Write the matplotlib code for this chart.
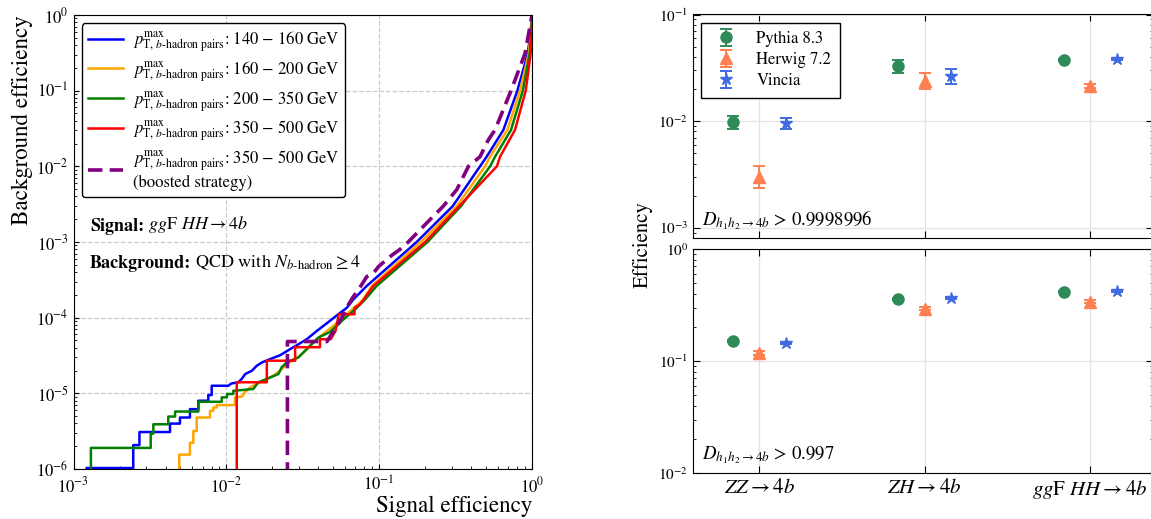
import matplotlib
matplotlib.use("Agg")
import matplotlib.pyplot as plt
import numpy as np

plt.rcParams['font.family'] = ['STIXGeneral', 'DejaVu Serif']
plt.rcParams['mathtext.fontset'] = 'stix'

# ---------------- Left panel: ROC curves ----------------
blue_x = [1.22e-3, 2.46e-3, 2.46e-3, 2.70e-3, 2.70e-3, 4.28e-3, 4.28e-3, 4.97e-3, 4.97e-3, 5.78e-3,
          5.78e-3, 6.56e-3, 6.56e-3, 7.62e-3, 7.62e-3, 8.02e-3, 8.02e-3, 1.03e-2, 1.08e-2, 1.20e-2,
          1.26e-2, 1.33e-2, 1.47e-2, 1.58e-2, 1.71e-2, 1.93e-2, 2.25e-2, 2.61e-2, 2.89e-2, 3.36e-2,
          3.91e-2, 4.54e-2, 5.28e-2, 6.14e-2, 6.78e-2, 0.083, 0.176, 0.303, 0.457, 0.505, 0.65,
          0.802, 0.94, 1.0]
blue_y = [1.03e-6, 1.03e-6, 2.07e-6, 2.07e-6, 3.08e-6, 3.08e-6, 3.98e-6, 3.98e-6, 4.79e-6, 4.79e-6,
          6.18e-6, 6.18e-6, 7.99e-6, 7.99e-6, 9.5e-6, 9.5e-6, 1.26e-5, 1.26e-5, 1.35e-5, 1.40e-5,
          1.55e-5, 1.80e-5, 1.99e-5, 2.31e-5, 2.56e-5, 2.83e-5, 3.19e-5, 3.83e-5, 4.32e-5, 5.19e-5,
          6.68e-5, 8.42e-5, 1.07e-4, 1.35e-4, 1.74e-4, 2.63e-4, 1e-3, 2.98e-3, 1e-2, 1.34e-2, 3.03e-2,
          0.1, 0.312, 0.9]

orange_x = [4.92e-3, 4.92e-3, 5.78e-3, 5.78e-3, 6.08e-3, 6.08e-3, 6.40e-3, 6.40e-3, 7.82e-3, 7.82e-3,
            8.22e-3, 8.22e-3, 8.65e-3, 8.65e-3, 1.14e-2, 1.14e-2, 1.27e-2, 1.32e-2, 1.43e-2, 1.58e-2,
            1.84e-2, 2.03e-2, 2.25e-2, 2.48e-2, 3.03e-2, 3.36e-2, 3.71e-2, 4.10e-2, 5.01e-2, 6.14e-2,
            7.89e-2, 0.0895, 0.187, 0.322, 0.493, 0.532, 0.69, 0.835, 0.953, 1.0]
orange_y = [1e-7, 1.55e-6, 1.55e-6, 2.22e-6, 2.22e-6, 3.18e-6, 3.18e-6, 4.79e-6, 4.79e-6, 5.88e-6,
            5.88e-6, 6.5e-6, 6.5e-6, 7.0e-6, 7.0e-6, 8.85e-6, 9.1e-6, 1.03e-5, 1.2e-5, 1.33e-5,
            1.55e-5, 1.71e-5, 1.99e-5, 2.43e-5, 3.13e-5, 3.83e-5, 4.69e-5, 5.62e-5, 7.77e-5, 1.11e-4,
            1.74e-4, 2.63e-4, 1e-3, 2.98e-3, 1e-2, 1.34e-2, 3.03e-2, 0.1, 0.312, 0.85]

green_x = [1.30e-3, 1.30e-3, 3.20e-3, 3.20e-3, 3.33e-3, 3.33e-3, 4.17e-3, 4.17e-3, 4.62e-3, 4.62e-3,
           6.56e-3, 6.56e-3, 9.33e-3, 9.33e-3, 1.01e-2, 1.01e-2, 1.11e-2, 1.11e-2, 1.50e-2, 1.62e-2,
           1.84e-2, 2.19e-2, 2.30e-2, 2.48e-2, 2.96e-2, 3.44e-2, 4.0e-2, 4.77e-2, 5.69e-2, 7.13e-2,
           8.09e-2, 0.0964, 0.207, 0.343, 0.532, 0.573, 0.729, 0.871, 0.966, 1.0]
green_y = [1e-7, 1.9e-6, 1.9e-6, 2.93e-6, 2.93e-6, 3.9e-6, 3.9e-6, 4.93e-6, 4.93e-6, 5.75e-6,
           5.75e-6, 7.74e-6, 7.74e-6, 8.85e-6, 8.85e-6, 9.8e-6, 9.8e-6, 1.08e-5, 1.14e-5, 1.40e-5,
           1.55e-5, 1.80e-5, 2.20e-5, 2.56e-5, 2.98e-5, 4.03e-5, 5.46e-5, 6.47e-5, 9.04e-5, 1.35e-4,
           1.74e-4, 2.63e-4, 1e-3, 2.98e-3, 1e-2, 1.34e-2, 3.03e-2, 0.1, 0.312, 0.8]

red_x = [1.17e-2, 1.17e-2, 1.84e-2, 1.84e-2, 2.82e-2, 2.82e-2, 4.10e-2, 4.10e-2, 4.82e-2, 5.18e-2,
         5.45e-2, 6.9e-2, 6.9e-2, 7.5e-2, 0.0917, 0.2, 0.334, 0.589, 0.618, 0.774, 0.91, 0.98, 1.0]
red_y = [1e-7, 1.4e-5, 1.4e-5, 2.7e-5, 2.7e-5, 4.07e-5, 4.07e-5, 5.19e-5, 5.19e-5, 6.68e-5,
         1.11e-4, 1.11e-4, 1.35e-4, 1.5e-4, 2.63e-4, 1e-3, 2.98e-3, 1e-2, 1.34e-2, 3.03e-2, 0.1, 0.312, 0.75]

purple_x = [2.51e-2, 2.51e-2, 4.56e-2, 4.77e-2, 5.14e-2, 5.35e-2, 5.83e-2, 6.28e-2, 6.78e-2, 7.31e-2,
            8.3e-2, 9.17e-2, 9.89e-2, 0.121, 0.137, 0.155, 0.205, 0.263, 0.322, 0.384, 0.457, 0.518,
            0.573, 0.729, 0.901, 1.0]
purple_y = [1e-7, 4.84e-5, 4.84e-5, 5.63e-5, 6.9e-5, 8.03e-5, 1.09e-4, 1.48e-4, 1.9e-4, 2.33e-4,
            3.49e-4, 3.87e-4, 4.73e-4, 6.68e-4, 8.0e-4, 1e-3, 1.79e-3, 2.98e-3, 4.93e-3, 1e-2, 1.34e-2,
            2.24e-2, 3.03e-2, 0.1, 0.312, 1.0]

roc_labels = ["140 $-$ 160 GeV", "160 $-$ 200 GeV", "200 $-$ 350 GeV", "350 $-$ 500 GeV",
              "350 $-$ 500 GeV\n(boosted strategy)"]

# ---------------- Right panels: efficiencies ----------------
categories = [r"$ZZ \rightarrow 4b$", r"$ZH \rightarrow 4b$", r"$gg$F $HH \rightarrow 4b$"]
generators = ["Pythia 8.3", "Herwig 7.2", "Vincia"]

# tight working point (D > 0.9998996)
tight_pythia = [0.0098, 0.0330, 0.0373]
tight_pythia_lo = [0.00848, 0.0280, 0.0365]
tight_pythia_hi = [0.0112, 0.0373, 0.0381]
tight_herwig = [0.00301, 0.0237, 0.0213]
tight_herwig_lo = [0.00234, 0.0198, 0.0205]
tight_herwig_hi = [0.00378, 0.0284, 0.0221]
tight_vincia = [0.00964, 0.0264, 0.0379]
tight_vincia_lo = [0.00841, 0.0221, 0.0371]
tight_vincia_hi = [0.0108, 0.0310, 0.0387]

# loose working point (D > 0.997)
loose_pythia = [0.150, 0.358, 0.416]
loose_pythia_lo = [0.147, 0.353, 0.411]
loose_pythia_hi = [0.153, 0.363, 0.421]
loose_herwig = [0.118, 0.293, 0.339]
loose_herwig_lo = [0.112, 0.283, 0.328]
loose_herwig_hi = [0.124, 0.303, 0.350]
loose_vincia = [0.145, 0.363, 0.422]
loose_vincia_lo = [0.141, 0.357, 0.416]
loose_vincia_hi = [0.149, 0.369, 0.428]

fig = plt.figure(figsize=(11.51, 5.19), dpi=100)

# ---- left axes
ax = fig.add_axes([73.5 / 1151, 50 / 519, 458.5 / 1151, 454 / 519])
curves = [(blue_x, blue_y, 'blue'), (orange_x, orange_y, 'orange'),
          (green_x, green_y, 'green'), (red_x, red_y, 'red')]
for (xs, ys, c), lab in zip(curves, roc_labels[:4]):
    ax.plot(xs, ys, color=c, lw=1.8,
            label=r"$p_{\mathrm{T},\,b\text{-hadron pairs}}^{\mathrm{max}}$: " + lab)
ax.plot(purple_x, purple_y, color='purple', lw=2.6, ls=(0, (4, 2)),
        label=r"$p_{\mathrm{T},\,b\text{-hadron pairs}}^{\mathrm{max}}$: " + roc_labels[4])
ax.set_xscale('log')
ax.set_yscale('log')
ax.set_xlim(1e-3, 1)
ax.set_ylim(1e-6, 1)
ax.grid(True, which='major', ls='--', color='#cccccc', lw=0.9)
ax.tick_params(which='both', direction='in', labelsize=12)
ax.tick_params(axis='x', pad=5)
ax.set_xlabel("Signal efficiency", fontsize=16.5, loc='right', labelpad=0)
ax.set_ylabel("Background efficiency", fontsize=16.5, loc='top', labelpad=2)
leg = ax.legend(loc='upper left', fontsize=12, frameon=True, edgecolor='black', framealpha=1,
                handlelength=2.1, handletextpad=0.6, borderpad=0.35, labelspacing=0.28,
                bbox_to_anchor=(0.0, 1.0))
leg.get_frame().set_linewidth(1.0)

t1 = ax.text(0.036, 0.524, "Signal:", transform=ax.transAxes, fontsize=13,
             fontweight='bold', va='baseline')
ax.annotate(r" $gg$F $HH \rightarrow 4b$", xy=(1, 0), xycoords=t1, fontsize=13, va='bottom',
            ha='left')
t2 = ax.text(0.036, 0.443, "Background:", transform=ax.transAxes, fontsize=13,
             fontweight='bold', va='baseline')
ax.annotate(r" QCD with $N_{b\text{-hadron}} \geq 4$", xy=(1, 0), xycoords=t2, fontsize=13,
            va='bottom', ha='left')

# ---- right axes
xr = np.arange(len(categories))
offset = 0.16
styles = [('o', '#2E8B57', 8), ('^', '#FF7F50', 8.5), ('*', '#4169E1', 9)]

ax1 = fig.add_axes([693 / 1151, 281 / 519, 460 / 1151, 223.5 / 519])
ax2 = fig.add_axes([693 / 1151, 46 / 519, 460 / 1151, 224 / 519])

tight = [(tight_pythia, tight_pythia_lo, tight_pythia_hi),
         (tight_herwig, tight_herwig_lo, tight_herwig_hi),
         (tight_vincia, tight_vincia_lo, tight_vincia_hi)]
loose = [(loose_pythia, loose_pythia_lo, loose_pythia_hi),
         (loose_herwig, loose_herwig_lo, loose_herwig_hi),
         (loose_vincia, loose_vincia_lo, loose_vincia_hi)]

for axp, data in [(ax1, tight), (ax2, loose)]:
    for i, ((v, lo, hi), (m, c, ms), name) in enumerate(zip(data, styles, generators)):
        v = np.array(v); lo = np.array(lo); hi = np.array(hi)
        axp.errorbar(xr + (i - 1) * offset, v, yerr=[v - lo, hi - v], fmt=m, color=c, ms=ms,
                     capsize=4, elinewidth=1.4, capthick=1.4, label=name)
    axp.set_yscale('log')
    axp.set_xlim(-0.4, 2.38)
    axp.set_xticks(xr)
    axp.grid(True, which='major', color='#e3e3e3', lw=0.9)
    axp.set_axisbelow(True)
    axp.tick_params(which='both', direction='in', top=True, right=True, labelsize=11)
    axp.tick_params(which='major', length=5)

ax1.set_ylim(8e-4, 1e-1)
ax2.set_ylim(1e-2, 1)
ax1.set_xticklabels([])
ax2.set_xticklabels(categories, fontsize=15)
ax1.text(0.02, 0.08, r"$D_{h_1 h_2 \rightarrow 4b}$ > 0.9998996", transform=ax1.transAxes,
         fontsize=13.5, va='center')
ax2.text(0.02, 0.08, r"$D_{h_1 h_2 \rightarrow 4b}$ > 0.997", transform=ax2.transAxes,
         fontsize=13.5, va='center')
leg1 = ax1.legend(loc='upper left', fontsize=12, frameon=True, fancybox=False, edgecolor='black',
                  framealpha=1, borderpad=0.5, labelspacing=0.3, handlelength=2.0)
leg1.get_frame().set_linewidth(1.0)
fig.text(643 / 1151, 1 - 245 / 519, "Efficiency", rotation=90, fontsize=15, ha='center', va='center')

fig.savefig("out.png", dpi=100)
